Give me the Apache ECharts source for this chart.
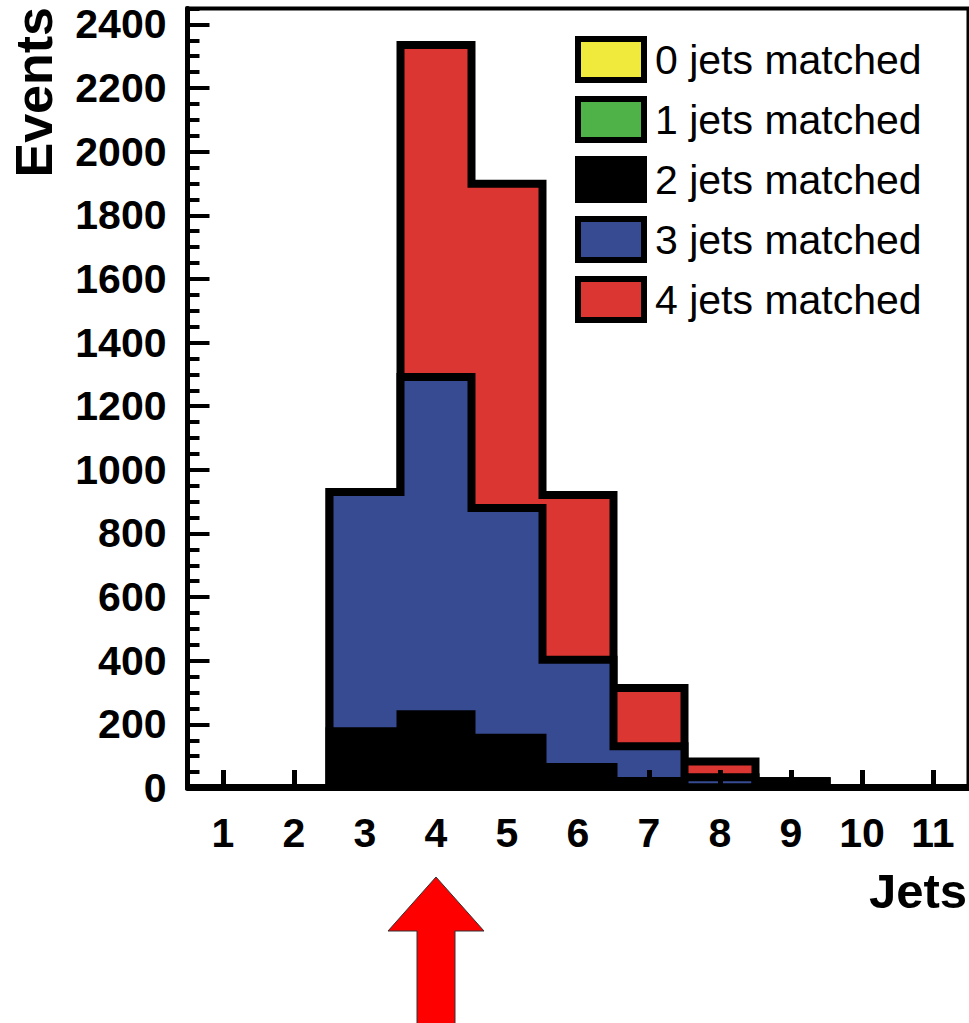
<!DOCTYPE html>
<html>
<head>
<meta charset="utf-8">
<script src="https://cdn.jsdelivr.net/npm/echarts@6/dist/echarts.min.js"></script>
<style>
html,body{margin:0;padding:0;background:#ffffff;}
#c{width:969px;height:1023px;}
</style>
</head>
<body>
<div id="c"></div>
<script>
// ---- data ----
const bins = [1, 2, 3, 4, 5, 6, 7, 8, 9, 10, 11];
const xTickLabels = ['1', '2', '3', '4', '5', '6', '7', '8', '9', '10', '11'];
const seriesNames = ['0 jets matched', '1 jets matched', '2 jets matched', '3 jets matched', '4 jets matched'];
const jets0 = [0, 0, 0, 0, 0, 0, 0, 0, 0, 0, 0];
const jets1 = [0, 0, 0, 0, 0, 0, 0, 0, 0, 0, 0];
const jets2 = [0, 0, 178, 232, 158, 66, 22, 2, 21, 0, 0];
const jets3 = [0, 0, 752, 1060, 722, 337, 109, 32, 0, 0, 0];
const jets4 = [0, 0, 0, 1043, 1019, 518, 183, 49, 0, 0, 0];
const markedBin = 4;
const xAxisTitle = 'Jets';
const yAxisTitle = 'Events';

// ---- styles ----
const fillColors = ['#f0ea3c', '#4fb248', '#000000', '#364b91', '#dc3632'];
const FONT = 'Liberation Sans, Arial, Helvetica, sans-serif';

const layers = [jets0, jets1, jets2, jets3, jets4];
// cumulative sums (stack bottom -> top: 0,1,2,3,4)
const cums = [];
layers.forEach((arr, k) => {
  cums.push(arr.map((v, i) => v + (k > 0 ? cums[k - 1][i] : 0)));
});

function makeRender(cum) {
  return function (params, api) {
    if (params.dataIndex !== 0) return null;
    const half = 0.5;
    const pts = [api.coord([bins[0] - half, 0])];
    for (let i = 0; i < bins.length; i++) {
      pts.push(api.coord([bins[i] - half, cum[i]]));
      pts.push(api.coord([bins[i] + half, cum[i]]));
    }
    pts.push(api.coord([bins[bins.length - 1] + half, 0]));
    return {
      type: 'polygon',
      shape: { points: pts },
      style: { fill: api.visual('color'), stroke: '#000', lineWidth: 8, lineJoin: 'miter' }
    };
  };
}

// draw from the top of the stack downwards so lower layers sit on top
const series = [];
for (let k = layers.length - 1; k >= 0; k--) {
  series.push({
    type: 'custom',
    name: seriesNames[k],
    clip: true,
    itemStyle: { color: fillColors[k] },
    encode: { x: 0, y: 1 },
    data: bins.map((b, i) => [b, cums[k][i]]),
    renderItem: makeRender(cums[k])
  });
}

const chart = echarts.init(document.getElementById('c'), null, { renderer: 'svg' });
const option = {
  animation: false,
  backgroundColor: '#ffffff',
  grid: {
    left: 187.5, top: 8.5, width: 781, height: 779.5,
    show: true, borderColor: '#000', borderWidth: 4,
    containLabel: false, outerBoundsMode: 'none'
  },
  legend: {
    orient: 'vertical',
    left: 575, top: 36,
    padding: 0,
    itemWidth: 66, itemHeight: 41, itemGap: 13,
    icon: 'rect',
    selectedMode: false,
    itemStyle: { borderColor: '#000', borderWidth: 6 },
    textStyle: { fontSize: 41, lineHeight: 41, fontFamily: FONT, color: '#000', padding: [0, 0, 0, 6] },
    data: seriesNames.slice()
  },
  xAxis: {
    type: 'value', min: 0.5, max: 11.5, z: 5,
    axisLine: { show: true, lineStyle: { color: '#000', width: 5 } },
    axisTick: { show: true, inside: true, length: 18, customValues: bins, lineStyle: { color: '#000', width: 5 } },
    axisLabel: {
      customValues: bins,
      formatter: v => xTickLabels[bins.indexOf(Math.round(v))],
      fontSize: 41, fontWeight: 'bold', fontFamily: FONT, color: '#000', margin: 24
    },
    splitLine: { show: false }
  },
  yAxis: [
    {
      type: 'value', min: 0, max: 2450, interval: 200, z: 5,
      axisLine: { show: true, lineStyle: { color: '#000', width: 5 } },
      axisTick: { show: true, inside: true, length: 22, lineStyle: { color: '#000', width: 4 } },
      axisLabel: {
        showMaxLabel: false,
        formatter: v => String(v),
        fontSize: 41, fontWeight: 'bold', fontFamily: FONT, color: '#000', margin: 21,
        padding: [6, 0, 0, 0]
      },
      splitLine: { show: false }
    },
    {
      type: 'value', min: 0, max: 2450, interval: 50, position: 'left', z: 5,
      axisLine: { show: false },
      axisTick: { show: true, inside: true, length: 12, lineStyle: { color: '#000', width: 4 } },
      axisLabel: { show: false },
      splitLine: { show: false }
    }
  ],
  series: series,
  graphic: [
    {
      id: 'ytitle', type: 'text', x: 33.5, y: 7, rotation: Math.PI / 2,
      style: { text: yAxisTitle, font: 'bold 52px ' + FONT, fill: '#000', textAlign: 'right', textVerticalAlign: 'middle' }
    },
    {
      id: 'xtitle', type: 'text', x: 967, y: 891,
      style: { text: xAxisTitle, font: 'bold 49px ' + FONT, fill: '#000', textAlign: 'right', textVerticalAlign: 'middle' }
    }
  ]
};
chart.setOption(option);

// red arrow under the marked bin, positioned through the x scale
const ax = chart.convertToPixel({ xAxisIndex: 0 }, markedBin);
chart.setOption({
  graphic: [
    {
      id: 'arrow', type: 'polygon',
      shape: {
        points: [
          [ax, 877], [ax + 48, 931], [ax + 19, 931], [ax + 19, 1030],
          [ax - 19, 1030], [ax - 19, 931], [ax - 48, 931]
        ]
      },
      style: { fill: '#ff0000', stroke: '#333', lineWidth: 1 }
    }
  ]
});
</script>
</body>
</html>
